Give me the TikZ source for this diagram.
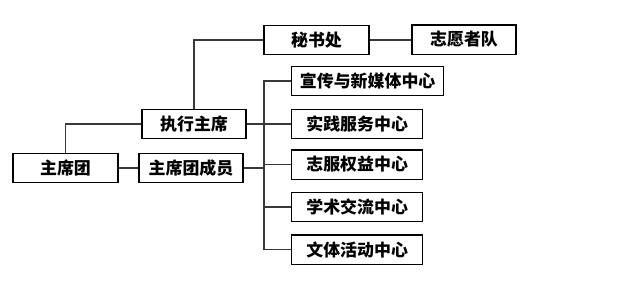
\documentclass[tikz,border=0pt]{standalone}
\usepackage{fontspec}
\newfontfamily\cjk{Noto Sans CJK SC}
\usetikzlibrary{positioning,calc}
\tikzset{
  every picture/.style={font=\cjk\bfseries\fontsize{12.7}{14}\selectfont},
  unit/.style={draw=black,line width=1pt,fill=white,inner sep=0pt,minimum height=22pt},
  link/.style={draw=black!78,line width=1pt},
}
\begin{document}
\begin{tikzpicture}[x=0.75pt,y=-0.75pt]
  \useasboundingbox (0,0) rectangle (631,301);
  % left column
  \node[unit,minimum width=78.75pt] (zxt) at (65.5,168) {主席团};
  \node[unit,minimum width=78pt] (cy) at (191,168) {主席团成员};
  \node[unit,minimum width=78pt] (zxzx) at (194,124) {执行主席};
  % top row
  \node[unit,minimum width=78.75pt] (msc) at (316.5,40) {秘书处};
  \node[unit,minimum width=78pt] (zyz) at (464,39.5) {志愿者队};
  % centres
  \coordinate (bus) at (264,0);
  \node[unit,anchor=west,minimum width=114pt] (c1) at (291,81) {宣传与新媒体中心};
  \foreach \i/\y/\t in {2/124/实践服务中心,3/164.5/志服权益中心,4/207/学术交流中心,5/249.5/文体活动中心}
    \node[unit,anchor=west,minimum width=98.25pt] (c\i) at (291,\y) {\t};
  % connectors
  \draw[link] (zxt.north) |- (zxzx.west);
  \draw[link] (zxt) -- (cy);
  \draw[link] (zxzx.north) |- (msc.west);
  \draw[link] (msc.east) -- (msc.east -| zyz.west);
  \draw[link] (c1.west) -| (bus |- c5.west) -- (c5.west);
  \foreach \i in {2,3,4}
    \draw[link] (c\i.west) -- (bus |- c\i.west);
  \draw[link] (zxzx.east) -- (bus |- zxzx.east);
  \draw[link] (cy.east) -- (bus |- cy.east);
\end{tikzpicture}
\end{document}
